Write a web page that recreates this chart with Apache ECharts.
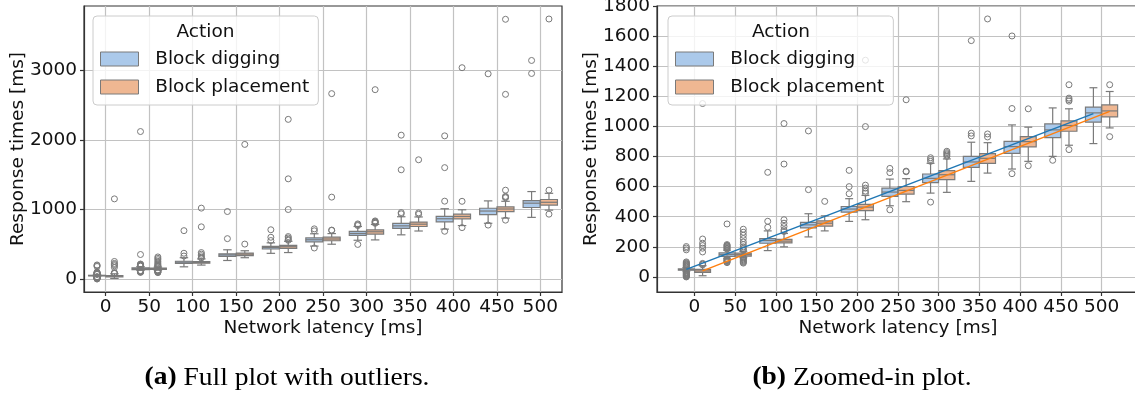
<!DOCTYPE html>
<html><head><meta charset="utf-8">
<script src="https://cdn.jsdelivr.net/npm/echarts@6/dist/echarts.min.js"></script>
<style>html,body{margin:0;padding:0;background:#fff}#c{width:1135px;height:394px}</style>
</head><body><div id="c"></div><script>
// ---------- data ----------
const xLabels = ['0','50','100','150','200','250','300','350','400','450','500'];
const yTicksFull = [0, 1000, 2000, 3000];
const yTicksZoom = [0, 200, 400, 600, 800, 1000, 1200, 1400, 1600, 1800];
const actions = ['Block digging', 'Block placement'];

// [lower whisker, Q1, median, Q3, upper whisker] per latency
const digStats = [
  [38, 45, 49, 53, 62],
  [125, 136, 148, 160, 178],
  [175, 224, 242, 255, 306],
  [266, 326, 346, 362, 420],
  [369, 431, 451, 468, 520],
  [473, 535, 564, 590, 650],
  [557, 626, 655, 684, 755],
  [635, 728, 764, 801, 895],
  [717, 821, 866, 901, 1010],
  [801, 926, 977, 1017, 1123],
  [886, 1028, 1090, 1128, 1257]
];
const placeStats = [
  [8, 30, 40, 50, 75],
  [128, 138, 148, 158, 170],
  [200, 226, 238, 249, 289],
  [306, 337, 357, 373, 406],
  [380, 440, 464, 482, 542],
  [500, 550, 575, 601, 653],
  [562, 646, 679, 706, 784],
  [690, 755, 788, 819, 892],
  [768, 864, 899, 932, 995],
  [875, 968, 1006, 1037, 1117],
  [990, 1063, 1103, 1143, 1232]
];
const digOutliers = [
  [0, 3, 6, 9, 12, 15, 18, 21, 24, 27, 30, 33, 66, 70, 74, 78, 82, 86, 90, 95, 100, 180, 192, 202],
  [95, 100, 104, 108, 112, 116, 120, 185, 190, 195, 200, 205, 210, 215, 352, 2120],
  [330, 370, 695],
  [580, 970],
  [553, 600, 708],
  [446, 693, 721],
  [497, 768, 780, 792],
  [937, 955, 1570, 2068],
  [686, 1119, 1601, 2058],
  [775, 2950],
  [2955, 3142]
];
const placeOutliers = [
  [80, 85, 90, 166, 191, 208, 224, 252, 1152],
  [92, 97, 102, 108, 114, 120, 126, 132, 175, 180, 190, 200, 215, 232, 255, 277, 297, 317],
  [302, 313, 335, 357, 380, 750, 1019],
  [502, 1935],
  [557, 570, 590, 610, 999, 1440, 2295],
  [699, 703, 1177, 2665],
  [801, 810, 818, 826, 835, 2722],
  [930, 950, 1714],
  [739, 1117, 3038],
  [846, 1168, 1178, 1188, 1277, 2655, 3734],
  [932, 1277, 3738]
];
// fitted trend lines (x in latency-category index units)
const digFit = [[-0.2, 50], [9.8, 1085]];
const placeFit = [[0.2, 40], [10.2, 1100]];

// ---------- styling ----------
const FONT = 'DejaVu Sans';
const FS = 18.5;
const TXT = '#111';
const EDGE = '#7a7a7a';
const COLORS = ['#abc9ea', '#efb792'];
const LINE_COLORS = ['#1f77b4', '#ff7f0e'];
const OFFSETS = [-0.2, 0.2];
const BOX_W = 0.39;
const GRID_COLOR = '#c2c2c2';
const tickIdx = xLabels.map((_, i) => i);

function renderBox(color) {
  return function (params, api) {
    const x = api.value(0);
    const pLo = api.coord([x, api.value(1)]);
    const pQ1 = api.coord([x, api.value(2)]);
    const pMd = api.coord([x, api.value(3)]);
    const pQ3 = api.coord([x, api.value(4)]);
    const pHi = api.coord([x, api.value(5)]);
    const w = api.size([BOX_W, 0])[0];
    const cx = pMd[0];
    const ls = {stroke: EDGE, lineWidth: 1.2, fill: null};
    return {type: 'group', children: [
      {type: 'line', shape: {x1: cx, y1: pQ1[1], x2: cx, y2: pLo[1]}, style: ls},
      {type: 'line', shape: {x1: cx, y1: pQ3[1], x2: cx, y2: pHi[1]}, style: ls},
      {type: 'line', shape: {x1: cx - w / 4, y1: pLo[1], x2: cx + w / 4, y2: pLo[1]}, style: ls},
      {type: 'line', shape: {x1: cx - w / 4, y1: pHi[1], x2: cx + w / 4, y2: pHi[1]}, style: ls},
      {type: 'rect', shape: {x: cx - w / 2, y: pQ3[1], width: w, height: pQ1[1] - pQ3[1]},
        style: {fill: color, stroke: EDGE, lineWidth: 1.2}},
      {type: 'line', shape: {x1: cx - w / 2, y1: pMd[1], x2: cx + w / 2, y2: pMd[1]}, style: ls}
    ]};
  };
}

function xAxisFor(gi, min, max) {
  return {
    type: 'value', gridIndex: gi, min: min, max: max,
    axisLine: {show: true, onZero: false, lineStyle: {color: '#333', width: 1.2}},
    axisTick: {show: true, length: 4, customValues: tickIdx, lineStyle: {color: '#333', width: 1.2}},
    axisLabel: {customValues: tickIdx, formatter: v => xLabels[Math.round(v)] ?? '',
      fontFamily: FONT, fontSize: FS, color: TXT, margin: 6},
    splitLine: {show: true, lineStyle: {color: GRID_COLOR, width: 1.2}},
    name: 'Network latency [ms]', nameLocation: 'middle', nameGap: 27, nameMoveOverlap: false,
    nameTextStyle: {fontFamily: FONT, fontSize: FS, color: TXT}
  };
}
function yAxisFor(gi, min, max, ticks) {
  return {
    type: 'value', gridIndex: gi, min: min, max: max,
    axisLine: {show: true, onZero: false, lineStyle: {color: '#333', width: 1.2}},
    axisTick: {show: true, length: 4, customValues: ticks, lineStyle: {color: '#333', width: 1.2}},
    axisLabel: {customValues: ticks, formatter: v => String(v), fontFamily: FONT, fontSize: FS, color: TXT, margin: 7},
    splitLine: {show: true, lineStyle: {color: GRID_COLOR, width: 1.2}},
    name: 'Response times [ms]', nameLocation: 'middle', nameGap: 56, nameRotate: 90, nameMoveOverlap: false,
    nameTextStyle: {fontFamily: FONT, fontSize: FS, color: TXT}
  };
}

const statsList = [digStats, placeStats];
const outList = [digOutliers, placeOutliers];
const fits = [digFit, placeFit];
const series = [];
[0, 1].forEach(gi => {
  [0, 1].forEach(a => {
    series.push({
      name: actions[a], type: 'custom', xAxisIndex: gi, yAxisIndex: gi, clip: true, z: 2,
      itemStyle: {color: COLORS[a]},
      renderItem: renderBox(COLORS[a]),
      encode: {x: 0, y: [1, 2, 3, 4, 5]},
      data: statsList[a].map((s, i) => [i + OFFSETS[a]].concat(s))
    });
  });
  [0, 1].forEach(a => {
    const pts = [];
    outList[a].forEach((arr, i) => arr.forEach(v => pts.push([i + OFFSETS[a], v])));
    series.push({
      name: actions[a] + ' outliers', type: 'scatter', xAxisIndex: gi, yAxisIndex: gi, clip: true, z: 3,
      symbol: 'circle', symbolSize: 6, silent: true,
      itemStyle: {color: 'rgba(255,255,255,0)', borderColor: EDGE, borderWidth: 1, opacity: 1},
      data: pts
    });
  });
});
[0, 1].forEach(a => {
  series.push({
    name: actions[a] + ' trend', type: 'line', xAxisIndex: 1, yAxisIndex: 1, z: 4,
    showSymbol: false, symbol: 'none', silent: true,
    lineStyle: {color: LINE_COLORS[a], width: 1.5},
    data: fits[a]
  });
});

const legendData = actions.map((n, a) => ({name: n, itemStyle: {color: COLORS[a], borderColor: EDGE, borderWidth: 1}}));
function legendAt(left) {
  return {
    left: left, top: 16, orient: 'vertical', data: legendData, icon: 'rect',
    itemWidth: 38, itemHeight: 14, itemGap: 8, padding: [33, 9, 8, 7],
    backgroundColor: 'rgba(255,255,255,0.8)', borderColor: '#cccccc', borderWidth: 1, borderRadius: 4,
    textStyle: {fontFamily: FONT, fontSize: FS, color: TXT, lineHeight: 20},
    formatter: n => '  ' + n, selectedMode: false, z: 10
  };
}
function caption(x, tag, rest) {
  return {type: 'text', x: x, y: 378, z: 100, scaleX: 1.1, scaleY: 1,
    style: {text: '{b|' + tag + '} ' + rest, fontFamily: 'Liberation Serif', fontSize: 25, fill: '#000',
      textAlign: 'center', textVerticalAlign: 'middle',
      rich: {b: {fontFamily: 'Liberation Serif', fontSize: 25, fontWeight: 'bold', fill: '#000'}}}};
}

const option = {
  backgroundColor: '#fff',
  animation: false,
  grid: [
    {left: 84, top: 6, width: 478, height: 286, show: true, borderColor: '#333', borderWidth: 1.2, outerBoundsMode: 'none'},
    {left: 657, top: 6, width: 482, height: 286, show: true, borderColor: '#333', borderWidth: 1.2, outerBoundsMode: 'none'}
  ],
  xAxis: [xAxisFor(0, -0.5, 10.5), xAxisFor(1, -0.92, 10.92)],
  yAxis: [yAxisFor(0, -187, 3925, yTicksFull), yAxisFor(1, -100, 1800, yTicksZoom)],
  legend: [legendAt(93), legendAt(668)],
  graphic: [
    {type: 'text', x: 205.5, y: 32, z: 100, style: {text: 'Action', fontFamily: FONT, fontSize: FS, fill: TXT, textAlign: 'center', textVerticalAlign: 'middle'}},
    {type: 'text', x: 781, y: 32, z: 100, style: {text: 'Action', fontFamily: FONT, fontSize: FS, fill: TXT, textAlign: 'center', textVerticalAlign: 'middle'}},
    caption(287, '(a)', 'Full plot with outliers.'),
    caption(862, '(b)', 'Zoomed-in plot.')
  ],
  series: series
};
const chart = echarts.init(document.getElementById('c'), null, {renderer: 'canvas'});
chart.setOption(option);
</script></body></html>
